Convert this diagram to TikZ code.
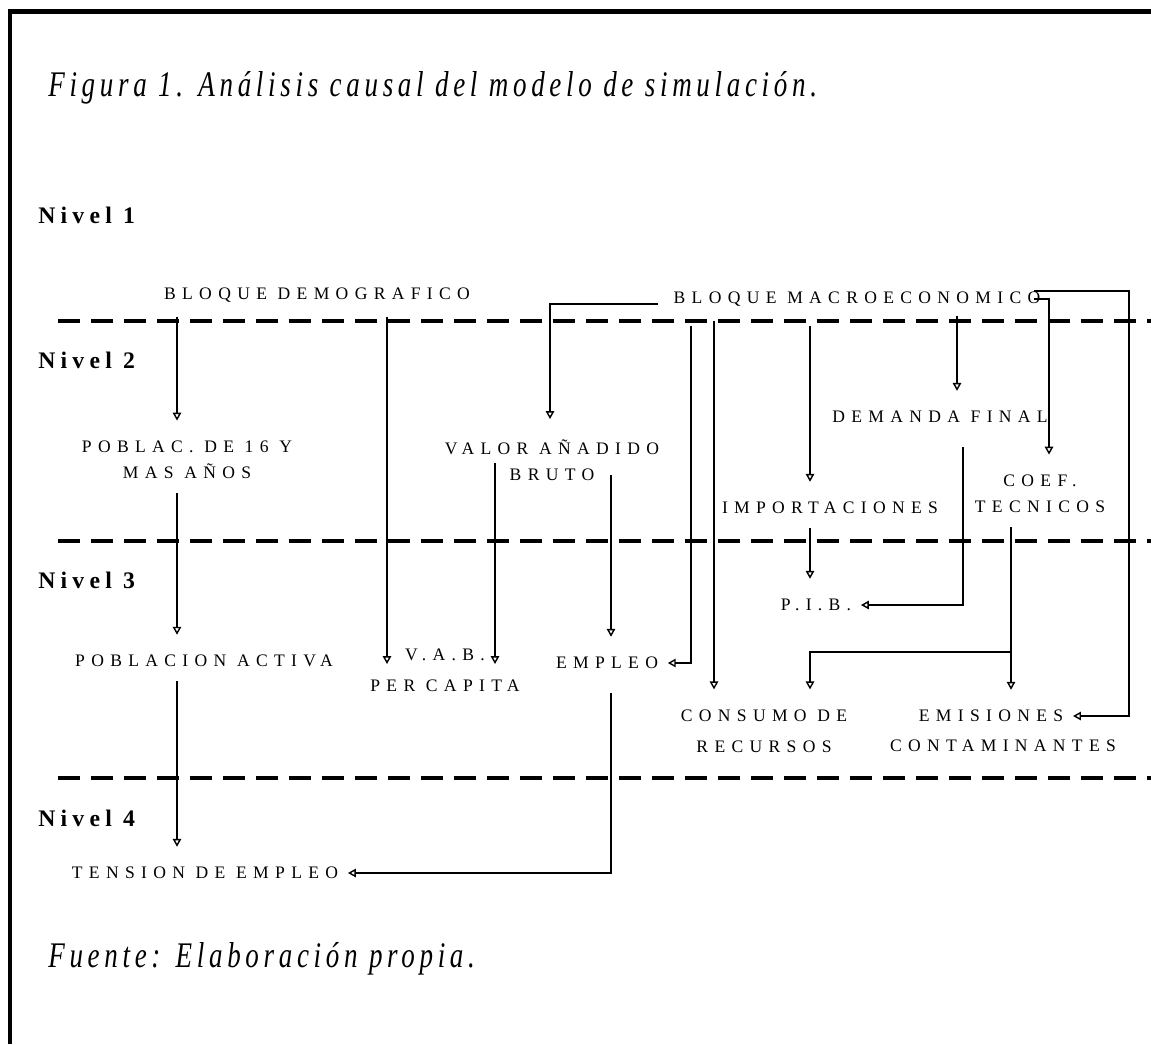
\documentclass[tikz,border=0pt]{standalone}
\usepackage{fontspec}
\setmainfont{Liberation Serif}
\newfontfamily\spacedfont[LetterSpace=36]{Liberation Serif}
\newfontfamily\nivelfont[LetterSpace=22]{Liberation Serif}
\newfontfamily\captfont[LetterSpace=13,FakeStretch=0.75]{Liberation Serif}
\usetikzlibrary{arrows.meta,calc}

\tikzset{
	lbl/.style={font=\spacedfont\fontsize{10}{15}\selectfont, align=center, inner xsep=2pt, inner ysep=0.28cm},
	nivel/.style={font=\nivelfont\bfseries\fontsize{13.5}{15}\selectfont, anchor=base west, inner sep=0pt},
	capt/.style={font=\captfont\itshape\fontsize{20.5}{24}\selectfont, anchor=base west, inner sep=0pt},
	wire/.style={draw, line width=0.8pt},
	link/.style={wire, -{Triangle[open,length=4.5pt,width=4.8pt]}, shorten >=0.12cm},
	levelline/.style={line width=1.9pt, dash pattern=on 0.44cm off 0.22cm}
}

\begin{document}
\begin{tikzpicture}[x=0.02cm, y=-0.02cm]
\useasboundingbox (0,0) rectangle (1151,1044);

% marco y niveles
\draw[line width=0.1cm] (10,1044) -- (10,12) -- (1151,12);
\foreach \yy in {321,541,778}
	\draw[levelline] (58,\yy) -- (1151,\yy);

\node[capt] (titulo) at (48,97) {Figura 1. Análisis causal del modelo de simulación.};
\node[capt] (fuente) at (48,967) {Fuente: Elaboración propia.};

\foreach \n/\yy in {1/223,2/368,3/588,4/826}
	\node[nivel] (niv\n) at (38,\yy) {Nivel \n};

% bloques
\node[lbl] (demog) at (317,295) {BLOQUE DEMOGRAFICO};
\node[lbl] (macro) at (857,299) {BLOQUE MACROECONOMICO};

\node[lbl] (demfin) at (940,417) {DEMANDA FINAL};
\node[lbl] (pobl) at (187,460) {POBLAC. DE 16 Y\\MAS AÑOS};
\node[lbl] (vab) at (552,460) {VALOR AÑADIDO\\BRUTO};
\node[lbl] (import) at (830,508) {IMPORTACIONES};
\node[lbl] (coef) at (1040,494) {COEF.\\TECNICOS};

\node[lbl] (pib) at (816,605) {P.I.B.};
\node[lbl] (pobact) at (204,661) {POBLACION ACTIVA};
\node[lbl] (vabpc) at (445,670) {V.A.B.\\[2.5pt]PER CAPITA};
\node[lbl] (empleo) at (607,663) {EMPLEO};
\node[lbl] (consumo) at (764,731) {CONSUMO DE\\[2.5pt]RECURSOS};
\node[lbl] (emis) at (991,716) {EMISIONES};
\node[lbl] (contam) at (1003,746) {CONTAMINANTES};

\node[lbl] (tension) at (205,873) {TENSION DE EMPLEO};

% columnas de las flechas
\pgfmathsetmacro{\xPob}{177}
\pgfmathsetmacro{\xDem}{387}
\pgfmathsetmacro{\xVal}{495}
\pgfmathsetmacro{\xVab}{550}
\pgfmathsetmacro{\xBru}{611}
\pgfmathsetmacro{\xEmp}{691}
\pgfmathsetmacro{\xCon}{714}
\pgfmathsetmacro{\xImp}{810}
\pgfmathsetmacro{\xDf}{957}
\pgfmathsetmacro{\xPib}{963}
\pgfmathsetmacro{\xTec}{1011}
\pgfmathsetmacro{\xCoef}{1049}
\pgfmathsetmacro{\xRet}{1129}

\draw[link] (demog.south -| \xPob,0) -- (pobl.north -| \xPob,0);
\draw[link] (demog.south -| \xDem,0) -- (vabpc.center -| \xDem,0);

\draw[link] ($(macro.west)+(-12,5)$) -| (vab.north -| \xVab,0);
\draw[link, shorten <=0.1cm] (macro.south -| \xEmp,0) |- (empleo.east);
\draw[link] (macro.south -| \xCon,0) -- (consumo.north -| \xCon,0);
\draw[link, shorten <=0.1cm] (macro.south -| \xImp,0) -- (import.north -| \xImp,0);
\draw[link, shorten <=-0.1cm] (macro.south -| \xDf,0) -- (demfin.north -| \xDf,0);
\draw[link] ($(macro.east)+(-10,0)$) -| (coef.north -| \xCoef,0);
\draw[link] ($(macro.east)+(-10,-8)$) -| (\xRet,0 |- emis.east) -- (emis.east);

\draw[link] (pobl.south -| \xPob,0) -- (pobact.north -| \xPob,0);
\draw[link, shorten <=0.06cm] (vab.center -| \xVal,0) -- (vabpc.center -| \xVal,0);
\draw[link, shorten <=-0.4cm] (vab.south -| \xBru,0) -- (empleo.north -| \xBru,0);
\draw[link] (import.south -| \xImp,0) -- (pib.north -| \xImp,0);
\draw[link, shorten <=0.2cm] (demfin.south -| \xPib,0) |- (pib.east);
\draw[link] (coef.south -| \xTec,0) -- (emis.north -| \xTec,0);
\coordinate (cruce) at (\xTec,652);
\draw[link] (cruce) -| (consumo.north -| \xImp,0);

\draw[link] (pobact.south -| \xPob,0) -- (tension.north -| \xPob,0);
\draw[link, shorten <=0.2cm] (empleo.south -| \xBru,0) |- (tension.east);
\end{tikzpicture}
\end{document}
